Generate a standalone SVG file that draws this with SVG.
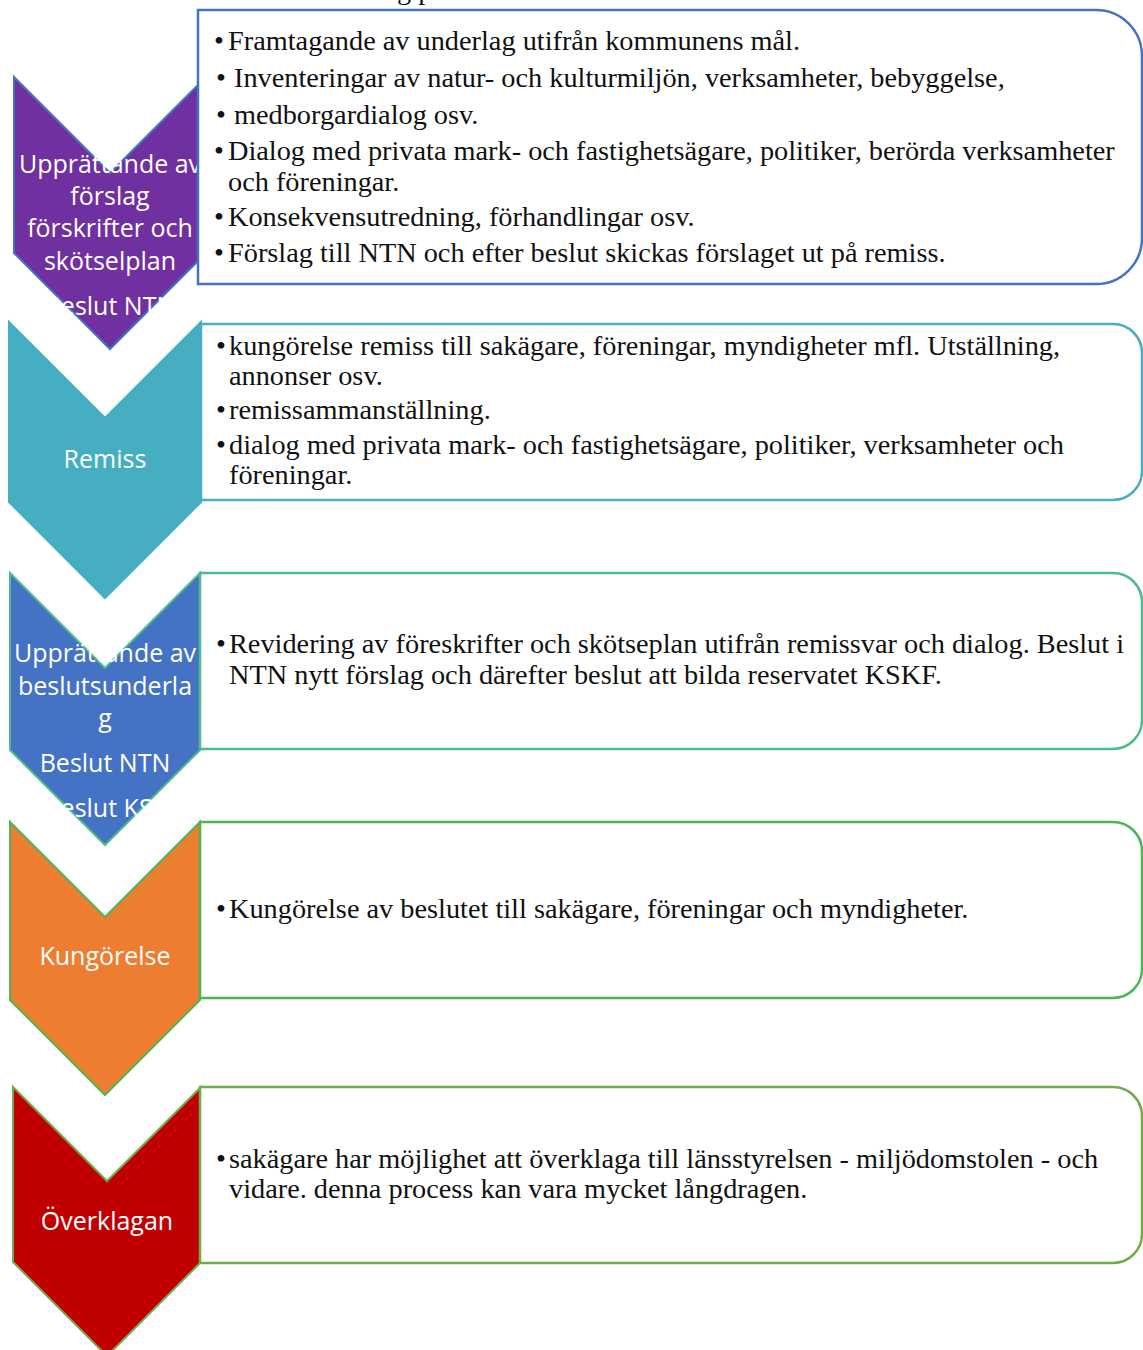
<svg xmlns="http://www.w3.org/2000/svg" width="1143" height="1350" viewBox="0 0 1143 1350">
<style>
.lbl{font-family:"Open Sans","Liberation Sans",sans-serif;font-size:25px;fill:#ffffff;text-anchor:middle}
.txt{font-family:"Liberation Serif","Times New Roman",serif;font-size:28.3px;fill:#111111}
.box{fill:#ffffff;stroke-width:2.5}
.chev{stroke-width:2}
</style>
<rect x="0" y="0" width="1143" height="1350" fill="#ffffff"/>
<text class="txt" x="397" y="-1">g p</text>
<g id="connectors"/>
<g id="step1">
<path class="chev" d="M14,77 L110,173 L206,77 L206,253 L110,349 L14,253 Z" fill="#7030A0" stroke="#4472C4"/>
<text class="lbl" x="110" y="173">Upprättande av</text>
<text class="lbl" x="110" y="205">förslag</text>
<text class="lbl" x="110" y="237">förskrifter och</text>
<text class="lbl" x="110" y="270">skötselplan</text>
<text class="lbl" x="110" y="315">Beslut NTN</text>
<path class="box" d="M198,10 H1096 A46,46 0 0 1 1142,56 V238 A46,46 0 0 1 1096,284 H198 Z" stroke="#4472C4"/>
<text class="txt" x="214" y="50">•</text><text class="txt" x="228" y="50">Framtagande av underlag utifrån kommunens mål.</text>
<text class="txt" x="216" y="87">•</text><text class="txt" x="234" y="87">Inventeringar av natur- och kulturmiljön, verksamheter, bebyggelse,</text>
<text class="txt" x="216" y="124">•</text><text class="txt" x="234" y="124">medborgardialog osv.</text>
<text class="txt" x="214" y="160">•</text><text class="txt" x="228" y="160">Dialog med privata mark- och fastighetsägare, politiker, berörda verksamheter</text>
<text class="txt" x="228" y="191">och föreningar.</text>
<text class="txt" x="214" y="226">•</text><text class="txt" x="228" y="226">Konsekvensutredning, förhandlingar osv.</text>
<text class="txt" x="214" y="262">•</text><text class="txt" x="228" y="262">Förslag till NTN och efter beslut skickas förslaget ut på remiss.</text>
</g>
<g id="step2">
<path class="chev" d="M9,322 L105,418 L201,322 L201,502 L105,598 L9,502 Z" fill="#45AFC1" stroke="#45AFC1"/>
<text class="lbl" x="105" y="468">Remiss</text>
<path class="box" d="M201,324 H1113 A29,29 0 0 1 1142,353 V471 A29,29 0 0 1 1113,500 H201 Z" stroke="#4BACC6"/>
<text class="txt" x="216" y="355">•</text><text class="txt" x="229" y="355">kungörelse remiss till sakägare, föreningar, myndigheter mfl. Utställning,</text>
<text class="txt" x="229" y="385">annonser osv.</text>
<text class="txt" x="216" y="419">•</text><text class="txt" x="229" y="419">remissammanställning.</text>
<text class="txt" x="216" y="454">•</text><text class="txt" x="229" y="454">dialog med privata mark- och fastighetsägare, politiker, verksamheter och</text>
<text class="txt" x="229" y="484">föreningar.</text>
</g>
<g id="step3">
<path class="chev" d="M10,573 L105,668 L200,573 L200,750 L105,845 L10,750 Z" fill="#4472C4" stroke="#4DBB8A"/>
<text class="lbl" x="105" y="662">Upprättande av</text>
<text class="lbl" x="105" y="695">beslutsunderla</text>
<text class="lbl" x="105" y="727">g</text>
<text class="lbl" x="105" y="772">Beslut NTN</text>
<text class="lbl" x="105" y="817">Beslut KSF</text>
<path class="box" d="M200,573 H1113 A29,29 0 0 1 1142,602 V720 A29,29 0 0 1 1113,749 H200 Z" stroke="#4DBB8A"/>
<text class="txt" x="216" y="653">•</text><text class="txt" x="229" y="653">Revidering av föreskrifter och skötseplan utifrån remissvar och dialog. Beslut i</text>
<text class="txt" x="229" y="684">NTN nytt förslag och därefter beslut att bilda reservatet KSKF.</text>
</g>
<g id="step4">
<path class="chev" d="M10,822 L105,917 L200,822 L200,1000 L105,1095 L10,1000 Z" fill="#ED7D31" stroke="#4DB552"/>
<text class="lbl" x="105" y="965">Kungörelse</text>
<path class="box" d="M200,822 H1113 A29,29 0 0 1 1142,851 V969 A29,29 0 0 1 1113,998 H200 Z" stroke="#4DB552"/>
<text class="txt" x="216" y="918">•</text><text class="txt" x="229" y="918">Kungörelse av beslutet till sakägare, föreningar och myndigheter.</text>
</g>
<g id="step5">
<path class="chev" d="M13,1087 L107,1181 L201,1087 L201,1262 L107,1356 L13,1262 Z" fill="#C00000" stroke="#70AD47"/>
<text class="lbl" x="107" y="1230">Överklagan</text>
<path class="box" d="M200,1087 H1113 A29,29 0 0 1 1142,1116 V1234 A29,29 0 0 1 1113,1263 H200 Z" stroke="#70AD47"/>
<text class="txt" x="216" y="1168">•</text><text class="txt" x="229" y="1168">sakägare har möjlighet att överklaga till länsstyrelsen - miljödomstolen - och</text>
<text class="txt" x="229" y="1198">vidare. denna process kan vara mycket långdragen.</text>
</g>
</svg>
